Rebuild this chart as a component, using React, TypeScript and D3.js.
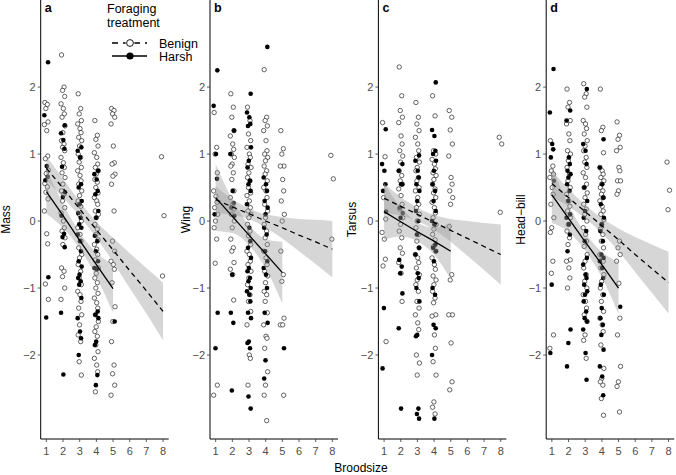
import React from "react";
import * as d3 from "d3";

// ---------- data (index i = broodsize i+1) ----------
const broods = [1, 2, 3, 4, 5, 6, 7, 8];
const harshBroods = [1, 2, 3, 4, 5];
const xTickValues = [1, 2, 3, 4, 5, 6, 7, 8];
const yTickValues = [-2, -1, 0, 1, 2];
const panelLetters = ["a", "b", "c", "d"];
const traitNames = ["Mass", "Wing", "Tarsus", "Head\u2212bill"];

const massBenign: number[][] = [
  [1.77, 1.74, 1.68, 1.48, 1.44, 1.35, 0.97, 0.93, 0.76, 0.71, 0.56, 0.51, 0.43, 0.33, 0.15, -0.19, -0.34, -0.94, -1.17],
  [2.48, 2.0, 1.95, 1.86, 1.75, 1.68, 1.6, 1.55, 1.42, 1.32, 1.2, 1.15, 1.1, 1.05, 0.95, 0.87, 0.8, 0.72, 0.65, 0.55, 0.45, 0.4, 0.3, 0.2, 0.12, 0.0, -0.1, -0.15, -0.25, -0.35, -0.7, -0.75, -0.83, -1.0, -1.17],
  [1.9, 1.68, 1.6, 1.5, 1.45, 1.38, 1.32, 1.25, 1.2, 1.12, 1.0, 0.95, 0.88, 0.8, 0.75, 0.68, 0.6, 0.55, 0.45, 0.38, 0.3, 0.22, 0.1, 0.0, -0.1, -0.2, -0.3, -0.4, -0.5, -0.55, -0.65, -0.75, -0.85, -0.95, -1.05, -1.1, -1.2, -1.3, -1.4, -1.55, -1.7, -1.8, -2.1, -2.3],
  [1.5, 1.28, 1.22, 1.12, 1.02, 0.95, 0.85, 0.8, 0.75, 0.7, 0.62, 0.58, 0.5, 0.42, 0.35, 0.3, 0.25, 0.15, 0.1, 0.05, -0.05, -0.12, -0.2, -0.28, -0.35, -0.42, -0.5, -0.58, -0.7, -0.78, -0.85, -0.92, -1.0, -1.08, -1.15, -1.22, -1.3, -1.4, -1.5, -1.58, -1.65, -1.72, -1.85, -1.95, -2.05, -2.15, -2.25, -2.55],
  [1.68, 1.65, 1.6, 1.55, 1.45, 1.12, 0.87, 0.85, 0.7, 0.67, 0.55, 0.15, -0.3, -0.45, -0.6, -0.65, -0.72, -0.92, -1.28, -1.5, -1.8, -2.15, -2.28, -2.45, -2.6],
  [],
  [],
  [0.96, 0.08, -0.82],
];
const massHarsh: number[][] = [
  [2.37, 1.58, 0.82, 0.66, 0.61, -0.84, -1.44],
  [1.43, 1.31, 1.21, 1.08, 0.81, 0.43, 0.36, 0.08, -0.19, -0.24, -0.39, -1.37, -2.29],
  [1.1, 1.05, 0.95, 0.55, 0.5, 0.3, 0.25, 0.12, 0.05, -0.05, -0.1, -0.2, -0.3, -0.45, -0.6, -0.68, -0.8, -0.85, -0.9, -0.95, -1.15, -1.45, -1.65, -1.75, -2.0],
  [0.75, 0.7, 0.62, 0.45, 0.4, 0.15, 0.05, -0.22, -0.3, -0.45, -0.6, -0.7, -0.72, -1.35, -1.4, -1.45, -1.8, -1.85, -2.3, -2.45],
  [-1.5],
  [],
  [],
  [],
];

const wingBenign: number[][] = [
  [1.62, 1.1, 1.0, 0.72, 0.45, 0.37, 0.28, 0.2, 0.1, 0.0, -0.1, -0.27, -0.63, -2.45, -2.6],
  [1.9, 1.7, 1.55, 1.35, 1.27, 1.15, 1.07, 1.0, 0.95, 0.85, 0.82, 0.72, 0.62, 0.45, 0.35, 0.25, 0.18, 0.1, 0.0, -0.1, -0.27, -0.4, -0.45, -0.62, -0.72, -0.8, -1.18],
  [1.7, 1.5, 1.3, 1.2, 1.1, 1.0, 0.95, 0.85, 0.8, 0.72, 0.65, 0.6, 0.5, 0.42, 0.38, 0.3, 0.2, 0.15, 0.1, 0.05, -0.05, -0.15, -0.22, -0.35, -0.45, -0.5, -0.6, -0.65, -0.75, -0.85, -0.95, -1.1, -1.2, -1.35, -1.55, -2.0, -2.05, -2.45],
  [2.26, 1.55, 1.5, 1.42, 1.35, 1.2, 1.05, 1.0, 0.95, 0.9, 0.82, 0.75, 0.7, 0.6, 0.5, 0.45, 0.35, 0.25, 0.15, 0.05, -0.05, -0.15, -0.25, -0.35, -0.45, -0.55, -0.65, -0.75, -0.82, -0.92, -1.05, -1.1, -1.2, -1.37, -1.55, -1.72, -1.75, -1.9, -2.25, -2.45, -2.6, -2.98],
  [1.35, 1.08, 1.0, 0.82, 0.82, 0.62, 0.45, 0.3, 0.1, 0.0, -0.45, -0.8, -0.9, -1.45, -1.55, -1.55, -2.6],
  [],
  [],
  [0.98, 0.63, -0.27],
];
const wingHarsh: number[][] = [
  [2.25, 1.72, 1.0, 0.63, 0.1, -1.37, -1.9],
  [1.35, 1.0, 0.45, 0.27, 0.2, 0.08, -0.8, -1.37, -1.52, -2.53],
  [1.9, 1.62, 1.55, 1.45, 1.42, 1.1, 0.9, 0.8, 0.6, 0.55, 0.45, 0.25, -0.1, -0.3, -0.4, -0.55, -0.7, -0.75, -0.85, -0.9, -1.0, -1.05, -1.1, -1.2, -1.37, -1.45, -1.8, -1.82, -1.9, -2.62, -2.8],
  [2.6, 0.65, 0.55, 0.45, 0.3, 0.2, 0.1, -0.1, -0.2, -0.45, -0.6, -0.7, -0.8, -1.0, -1.37, -1.52, -2.08, -2.35],
  [-1.9],
  [],
  [],
  [],
];

const tarsusBenign: number[][] = [
  [1.47, 0.96, 0.35, 0.03, -0.17, -0.27, -0.57, -0.67, -1.8],
  [2.3, 1.87, 1.65, 1.55, 1.47, 1.27, 1.15, 1.05, 0.97, 0.88, 0.75, 0.68, 0.6, 0.55, 0.48, 0.38, 0.25, 0.18, 0.05, -0.05, -0.15, -0.25, -0.4, -0.48, -0.62, -0.78, -1.2],
  [1.77, 1.55, 1.45, 1.35, 1.25, 1.15, 1.05, 0.95, 0.88, 0.8, 0.75, 0.65, 0.6, 0.5, 0.45, 0.35, 0.25, 0.2, 0.1, 0.0, -0.1, -0.2, -0.3, -0.4, -0.5, -0.55, -0.62, -0.7, -0.8, -0.88, -0.95, -1.05, -1.2, -1.3, -1.4, -1.52, -1.62, -2.0, -2.12, -2.3],
  [1.87, 1.57, 1.05, 1.0, 0.92, 0.85, 0.78, 0.72, 0.68, 0.62, 0.55, 0.48, 0.42, 0.35, 0.28, 0.2, 0.12, 0.05, -0.05, -0.12, -0.2, -0.28, -0.38, -0.45, -0.55, -0.65, -0.72, -0.82, -0.88, -0.95, -1.05, -1.15, -1.22, -1.4, -1.42, -1.7, -1.9, -2.1, -2.3, -2.7, -2.78, -2.88],
  [1.65, 1.55, 1.36, 1.15, 0.97, 0.65, 0.55, 0.45, 0.35, 0.25, -0.08, -0.8, -0.88, -1.4, -1.4, -1.82, -2.4, -2.52],
  [],
  [],
  [1.25, 1.15, 0.13],
];
const tarsusHarsh: number[][] = [
  [1.37, 0.85, 0.75, 0.55, 0.45, 0.14, -1.3, -2.2],
  [0.85, 0.75, 0.55, 0.55, 0.2, 0.12, 0.05, -0.58, -0.68, -0.78, -1.08, -1.6, -2.8],
  [0.98, 0.9, 0.75, 0.65, 0.55, 0.45, 0.3, 0.15, 0.0, -0.2, -0.4, -0.5, -0.78, -0.85, -1.0, -1.2, -1.7, -1.72, -2.8, -2.88, -2.95],
  [2.07, 1.36, 1.27, 1.05, 1.0, 0.9, 0.75, 0.55, 0.45, 0.3, 0.15, 0.0, -0.05, -0.35, -0.4, -0.45, -0.6, -1.0, -1.1, -1.55, -1.6, -2.0, -2.95],
  [],
  [],
  [],
  [],
];

const headBenign: number[][] = [
  [1.2, 0.82, 0.75, 0.7, 0.65, 0.5, 0.4, 0.25, 0.05, -0.1, -0.17, -0.6, -0.78, -1.7, -1.9],
  [1.97, 1.77, 1.7, 1.5, 1.45, 1.3, 1.2, 1.05, 1.0, 0.9, 0.8, 0.7, 0.6, 0.5, 0.4, 0.3, 0.22, 0.15, 0.05, -0.05, -0.15, -0.25, -0.35, -0.58, -0.6, -0.7, -0.85, -1.0],
  [2.05, 1.9, 1.85, 1.7, 1.5, 1.45, 1.38, 1.3, 1.2, 1.12, 1.05, 0.95, 0.88, 0.8, 0.72, 0.65, 0.55, 0.5, 0.42, 0.35, 0.25, 0.18, 0.1, 0.0, -0.1, -0.2, -0.3, -0.38, -0.5, -0.6, -0.7, -0.8, -0.9, -1.0, -1.1, -1.2, -1.3, -1.4, -1.5, -1.7, -1.78, -2.05],
  [1.97, 1.4, 1.35, 1.02, 0.8, 0.75, 0.7, 0.65, 0.6, 0.55, 0.5, 0.45, 0.4, 0.35, 0.3, 0.22, 0.15, 0.1, 0.02, -0.05, -0.12, -0.2, -0.3, -0.4, -0.5, -0.55, -0.6, -0.7, -0.8, -0.9, -1.0, -1.1, -1.2, -1.35, -1.45, -1.55, -1.65, -1.85, -2.2, -2.35, -2.4, -2.45, -2.65, -2.9],
  [1.48, 1.28, 1.22, 1.1, 1.05, 0.8, 0.75, 0.6, 0.6, 0.45, 0.4, -0.3, -0.4, -0.5, -0.6, -0.93, -1.45, -1.7, -2.17, -2.4, -2.47, -2.85],
  [],
  [],
  [0.88, 0.46, 0.17],
];
const headHarsh: number[][] = [
  [2.27, 1.62, 1.15, 1.07, 0.95, 0.6, -0.95, -1.97],
  [1.65, 1.5, 0.95, 0.85, 0.75, 0.7, 0.65, 0.55, 0.45, 0.3, 0.1, 0.05, -0.05, -0.2, -0.45, -1.62, -1.82, -2.17],
  [1.97, 1.15, 1.05, 0.85, 0.5, 0.3, 0.15, 0.05, -0.15, -0.3, -0.55, -0.65, -0.8, -0.85, -0.95, -1.05, -1.1, -1.2, -1.35, -1.45, -1.5, -1.62, -1.97, -2.37],
  [1.22, 0.8, 0.55, 0.35, 0.25, 0.05, -0.05, -0.15, -0.3, -0.5, -0.55, -0.6, -0.7, -0.85, -0.95, -1.1, -1.3, -1.45, -1.55, -1.7, -1.92, -2.17, -2.32, -2.6],
  [-1.28],
  [],
  [],
  [],
];

// fitted values and CI half-widths at broodsize 1..8 (benign) and 1..5 (harsh)
const massBenignFit = [0.79, 0.49, 0.18, -0.13, -0.43, -0.74, -1.04, -1.35];
const massBenignCI = [0.18, 0.14, 0.11, 0.12, 0.18, 0.26, 0.34, 0.43];
const massHarshFit = [0.44, 0.08, -0.29, -0.65, -1.01];
const massHarshCI = [0.33, 0.18, 0.12, 0.18, 0.36];

const wingBenignFit = [0.32, 0.21, 0.11, 0.0, -0.1, -0.21, -0.31, -0.42];
const wingBenignCI = [0.2, 0.12, 0.08, 0.1, 0.16, 0.24, 0.33, 0.42];
const wingHarshFit = [0.35, 0.07, -0.21, -0.49, -0.77];
const wingHarshCI = [0.5, 0.25, 0.15, 0.22, 0.46];

const tarsusBenignFit = [0.34, 0.22, 0.1, -0.02, -0.14, -0.26, -0.38, -0.5];
const tarsusBenignCI = [0.22, 0.14, 0.1, 0.11, 0.17, 0.26, 0.35, 0.45];
const tarsusHarshFit = [0.14, -0.01, -0.16, -0.3, -0.45];
const tarsusHarshCI = [0.42, 0.22, 0.14, 0.2, 0.42];

const headBenignFit = [0.56, 0.35, 0.14, -0.07, -0.28, -0.5, -0.71, -0.92];
const headBenignCI = [0.2, 0.13, 0.1, 0.11, 0.17, 0.26, 0.36, 0.46];
const headHarshFit = [0.39, 0.04, -0.31, -0.65, -1.0];
const headHarshCI = [0.42, 0.2, 0.13, 0.19, 0.39];

// ---------- layout ----------
const W = 676;
const H = 475;
const panelLeft = [40.7, 210, 378.4, 546.2];
const titleX = [9.5, 190, 356, 525];
const plotW = 128;
const plotBottom = 439;
const jitterPattern = [-0.09, 0.06, -0.03, 0.1, -0.12, 0.02, 0.08, -0.06, 0.12, -0.01];
const font = "'Liberation Sans', Arial, Helvetica, sans-serif";

const xScale = d3.scaleLinear().domain([0.66, 8.34]).range([0, plotW]);
const yScale = d3.scaleLinear().domain([-3.254, 3.3]).range([plotBottom, 0]);

type PanelProps = {
  idx: number;
  benign: number[][];
  harsh: number[][];
  bFit: number[];
  bCI: number[];
  hFit: number[];
  hCI: number[];
};

function Panel({ idx, benign, harsh, bFit, bCI, hFit, hCI }: PanelProps) {
  const left = panelLeft[idx];
  const area = d3
    .area<number>()
    .curve(d3.curveMonotoneX);
  const bArea = d3
    .area<number>()
    .x((_, i) => xScale(broods[i]))
    .y0((d, i) => yScale(d - bCI[i]))
    .y1((d, i) => yScale(d + bCI[i]))
    .curve(d3.curveMonotoneX)(bFit);
  const hArea = d3
    .area<number>()
    .x((_, i) => xScale(harshBroods[i]))
    .y0((d, i) => yScale(d - hCI[i]))
    .y1((d, i) => yScale(d + hCI[i]))
    .curve(d3.curveMonotoneX)(hFit);
  void area;
  const bLine = d3
    .line<number>()
    .x((_, i) => xScale(broods[i]))
    .y((d) => yScale(d))(bFit);
  const hLine = d3
    .line<number>()
    .x((_, i) => xScale(harshBroods[i]))
    .y((d) => yScale(d))(hFit);

  const benignPts: { x: number; y: number }[] = [];
  benign.forEach((col, ci) =>
    col.forEach((v, j) => benignPts.push({ x: broods[ci] + jitterPattern[j % jitterPattern.length], y: v }))
  );
  const harshPts: { x: number; y: number }[] = [];
  harsh.forEach((col, ci) =>
    col.forEach((v, j) => harshPts.push({ x: broods[ci] + jitterPattern[(j + 3) % jitterPattern.length], y: v }))
  );

  return (
    <g>
      <g transform={`translate(${left},0)`}>
        {benignPts.map((p, i) => (
          <circle key={"b" + i} cx={xScale(p.x)} cy={yScale(p.y)} r={2.2} fill="#fff" stroke="#000" strokeWidth={0.6} />
        ))}
        {harshPts.map((p, i) => (
          <circle key={"h" + i} cx={xScale(p.x)} cy={yScale(p.y)} r={2.3} fill="#000" />
        ))}
        <path d={bArea || ""} fill="#999999" fillOpacity={0.4} />
        <path d={hArea || ""} fill="#999999" fillOpacity={0.4} />
        <path d={bLine || ""} fill="none" stroke="#000" strokeWidth={1.3} strokeDasharray="5,4" />
        <path d={hLine || ""} fill="none" stroke="#000" strokeWidth={1.3} />
        {/* axes */}
        <line x1={0} x2={0} y1={0} y2={plotBottom} stroke="#000" strokeWidth={1} />
        <line x1={0} x2={plotW} y1={plotBottom} y2={plotBottom} stroke="#000" strokeWidth={1} />
        {yTickValues.map((t) => (
          <g key={"yt" + t}>
            <line x1={-3} x2={0} y1={yScale(t)} y2={yScale(t)} stroke="#333" strokeWidth={0.8} />
            <text x={-5} y={yScale(t) + 3.8} textAnchor="end" fontSize={11} fill="#4d4d4d" fontFamily={font}>
              {t < 0 ? "\u2212" + Math.abs(t) : String(t)}
            </text>
          </g>
        ))}
        {xTickValues.map((t) => (
          <g key={"xt" + t}>
            <line x1={xScale(t)} x2={xScale(t)} y1={plotBottom} y2={plotBottom + 3} stroke="#333" strokeWidth={0.8} />
            <text x={xScale(t)} y={plotBottom + 16} textAnchor="middle" fontSize={11} fill="#4d4d4d" fontFamily={font}>
              {t}
            </text>
          </g>
        ))}
        <text x={4} y={11.5} fontSize={12.5} fontWeight="bold" fontFamily={font} fill="#000">
          {panelLetters[idx]}
        </text>
      </g>
      <text
        transform={`translate(${titleX[idx]},${plotBottom / 2}) rotate(-90)`}
        textAnchor="middle"
        fontSize={12}
        fontFamily={font}
        fill="#000"
      >
        {traitNames[idx]}
      </text>
    </g>
  );
}

function Legend() {
  const x0 = 112;
  const x1 = 147;
  const cx = 130;
  const yB = 43;
  const yH = 56;
  return (
    <g fontFamily={font}>
      <text x={107} y={13} fontSize={12.5} fill="#000">Foraging</text>
      <text x={107} y={27} fontSize={12.5} fill="#000">treatment</text>
      <line x1={x0} x2={x1} y1={yB} y2={yB} stroke="#000" strokeWidth={1.3} strokeDasharray="6,5" />
      <circle cx={cx} cy={yB} r={4.5} fill="#fff" />
      <circle cx={cx} cy={yB} r={3.4} fill="#fff" stroke="#000" strokeWidth={0.9} />
      <line x1={x0} x2={x1} y1={yH} y2={yH} stroke="#000" strokeWidth={1.3} />
      <circle cx={cx} cy={yH} r={3.6} fill="#000" />
      <text x={159} y={yB + 4.5} fontSize={12.5} fill="#000">Benign</text>
      <text x={159} y={yH + 4.5} fontSize={12.5} fill="#000">Harsh</text>
    </g>
  );
}

export default function App() {
  return (
    <svg
      width={W}
      height={H}
      viewBox={`0 0 ${W} ${H}`}
      style={{ position: "absolute", left: 0, top: 0, background: "#fff" }}
    >
      <rect x={0} y={0} width={W} height={H} fill="#fff" />
      <Panel idx={0} benign={massBenign} harsh={massHarsh} bFit={massBenignFit} bCI={massBenignCI} hFit={massHarshFit} hCI={massHarshCI} />
      <Panel idx={1} benign={wingBenign} harsh={wingHarsh} bFit={wingBenignFit} bCI={wingBenignCI} hFit={wingHarshFit} hCI={wingHarshCI} />
      <Panel idx={2} benign={tarsusBenign} harsh={tarsusHarsh} bFit={tarsusBenignFit} bCI={tarsusBenignCI} hFit={tarsusHarshFit} hCI={tarsusHarshCI} />
      <Panel idx={3} benign={headBenign} harsh={headHarsh} bFit={headBenignFit} bCI={headBenignCI} hFit={headHarshFit} hCI={headHarshCI} />
      <Legend />
      <text x={361} y={472} textAnchor="middle" fontSize={12} fontFamily={font} fill="#000">
        Broodsize
      </text>
    </svg>
  );
}
